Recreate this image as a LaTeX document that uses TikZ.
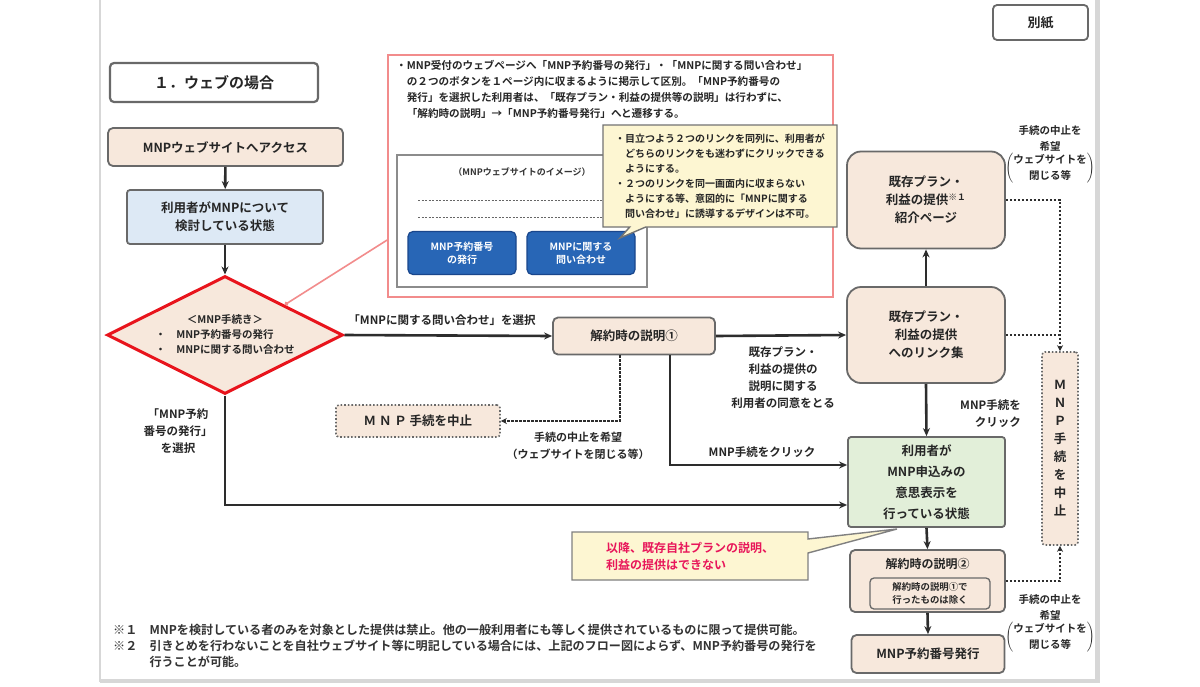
\documentclass[tikz,border=0pt]{standalone}
\usepackage{fontspec}
\setmainfont{Noto Sans CJK JP}[BoldFont={Noto Sans CJK JP Bold}]
\usetikzlibrary{shapes.geometric,shapes.callouts,arrows.meta,calc}
\definecolor{beige}{RGB}{247,232,220}
\definecolor{lblue}{RGB}{221,233,245}
\definecolor{lgreen}{RGB}{226,239,217}
\definecolor{bgray}{RGB}{105,105,105}
\definecolor{dred}{RGB}{232,20,28}
\definecolor{pinkline}{RGB}{242,140,140}
\definecolor{lyellow}{RGB}{253,246,210}
\definecolor{btnblue}{RGB}{40,102,182}
\definecolor{btnedge}{RGB}{25,70,140}
\definecolor{magred}{RGB}{232,22,90}
\definecolor{linec}{RGB}{45,45,45}
\definecolor{edgegray}{RGB}{215,215,215}
\tikzset{
  base/.style={font=\bfseries\fontsize{12.5}{18}\selectfont, align=center, inner sep=2pt, text=black!85},
  box/.style={base, draw=bgray, line width=1.8pt, rounded corners=5pt, fill=beige},
  bigbox/.style={box, rounded corners=14pt},
  dotbox/.style={base, draw=bgray, line width=1.6pt, dotted, rounded corners=3pt, fill=beige},
  lbl/.style={font=\bfseries\fontsize{11.5}{17}\selectfont, align=center, text=black!85, inner sep=1pt},
  flow/.style={draw=linec, line width=2.6pt, -{Stealth[length=8pt,width=7pt]}},
  flowline/.style={draw=linec, line width=2.6pt},
  quit/.style={draw=linec, line width=1.4pt, dash pattern=on 2.5pt off 1.5pt, -{Stealth[length=6pt,width=6pt]}},
  quitline/.style={draw=linec, line width=1.4pt, dash pattern=on 2.5pt off 1.5pt},
  btn/.style={draw=btnedge, line width=1.2pt, fill=btnblue, rounded corners=5pt, text=white, font=\bfseries\fontsize{10}{13}\selectfont, align=center, minimum width=108pt, minimum height=43pt},
}
\begin{document}
\begin{tikzpicture}[x=1pt,y=-1pt]
\useasboundingbox (0,0) rectangle (1200,686);
\fill[white] (0,0) rectangle (1200,686);
% page edges
\draw[edgegray, line width=2pt] (100,0) -- (100,682);
\draw[edgegray, line width=5pt] (1097,0) -- (1097,682);
\draw[edgegray, line width=4pt] (100,681) -- (1100,681);

% header boxes
\node[base, draw=bgray, line width=1.8pt, rounded corners=4pt, fill=white, minimum width=95pt, minimum height=35pt, font=\bfseries\fontsize{13}{16}\selectfont] (bessi) at (1040.5,22.5) {別紙};
\node[base, draw=bgray, line width=2.2pt, rounded corners=4pt, fill=white, minimum width=208pt, minimum height=39pt, font=\bfseries\fontsize{15}{18}\selectfont] (title) at (214,82.5) {１．ウェブの場合};

% left column
\node[box, minimum width=235pt, minimum height=38pt] (access) at (225.5,147) {MNPウェブサイトへアクセス};
\node[box, fill=lblue, rounded corners=3pt, minimum width=196pt, minimum height=54pt] (consider) at (225,217) {利用者がMNPについて\\検討している状態};
\node[diamond, draw=dred, line width=3pt, fill=beige, shape aspect=2, minimum width=236pt, minimum height=118pt, inner sep=0pt, font=\bfseries\fontsize{10.5}{15}\selectfont, text=black!85] (dia) at (225,335)
  {\begin{tabular}{@{}l@{}}\multicolumn{1}{@{}c@{}}{＜MNP手続き＞}\\・　MNP予約番号の発行\\・　MNPに関する問い合わせ\end{tabular}};

% pink explanation box
\node[draw=pinkline, line width=1.6pt, fill=white, minimum width=445pt, minimum height=242pt] (pink) at (610.5,176) {};
\node[anchor=north west, font=\bfseries\fontsize{10.6}{16}\selectfont, align=left, inner sep=0pt, text=black!85] (pinktext) at (396,60)
 {・MNP受付のウェブページへ「MNP予約番号の発行」・「MNPに関する問い合わせ」\\
  　の２つのボタンを１ページ内に収まるように掲示して区別。「MNP予約番号の\\
  　発行」を選択した利用者は、「既存プラン・利益の提供等の説明」は行わずに、\\
  　「解約時の説明」→「MNP予約番号発行」へと遷移する。};
\node[draw=black!45, line width=1.4pt, fill=white, minimum width=250pt, minimum height=132pt] (site) at (522,221) {};
\node[font=\bfseries\fontsize{9}{12}\selectfont, text=black!80] (sitetitle) at (522,172) {（MNPウェブサイトのイメージ）};
\draw[black!60, line width=1pt, dash pattern=on 2pt off 1.5pt] (418,200) -- (640,200);
\draw[black!60, line width=1pt, dash pattern=on 2pt off 1.5pt] (418,217) -- (640,217);
\node[btn] (btn1) at (462,253) {MNP予約番号\\の発行};
\node[btn] (btn2) at (581,253) {MNPに関する\\問い合わせ};
\node[rectangle callout, callout absolute pointer={(620,238)}, callout pointer width=16pt, draw=black!55, line width=1.4pt, fill=lyellow, minimum width=234pt, minimum height=102pt, inner sep=0pt, font=\bfseries\fontsize{10}{15}\selectfont, align=left, text=black!85] (yellow) at (720,176)
 {・目立つよう２つのリンクを同列に、利用者が\\
  　どちらのリンクをも迷わずにクリックできる\\
  　ようにする。\\
  ・２つのリンクを同一画面内に収まらない\\
  　ようにする等、意図的に「MNPに関する\\
  　問い合わせ」に誘導するデザインは不可。};
\draw[pinkline, line width=1.6pt, {Circle[length=4pt]}-] (dia.north east) -- ([yshift=-64pt]pink.west);

% middle
\node[box, minimum width=162pt, minimum height=37pt] (k1) at (634,336) {解約時の説明①};
\node[dotbox, minimum width=164pt, minimum height=32pt] (stop) at (418,421) {Ｍ Ｎ Ｐ 手続を中止};

% right column
\node[bigbox, minimum width=158pt, minimum height=97pt] (intro) at (926,200) {既存プラン・\\利益の提供\textsuperscript{※１}\\紹介ページ};
\node[bigbox, minimum width=158pt, minimum height=96pt] (link) at (926,335) {既存プラン・\\利益の提供\\へのリンク集};
\node[box, fill=lgreen, rounded corners=3pt, minimum width=157pt, minimum height=90pt, font=\bfseries\fontsize{12.5}{21}\selectfont] (green) at (926.5,482) {利用者が\\MNP申込みの\\意思表示を\\行っている状態};
\node[box, minimum width=155pt, minimum height=62pt] (k2) at (927.5,581) {};
\node[base, font=\bfseries\fontsize{12}{15}\selectfont] (k2t) at (927.5,564) {解約時の説明②};
\node[draw=bgray, line width=1.3pt, rounded corners=4pt, minimum width=120pt, minimum height=31pt, inner sep=0pt, font=\bfseries\fontsize{9.4}{13}\selectfont, align=center, text=black!85] (k2n) at (930,593.5) {解約時の説明①で\\行ったものは除く};
\node[box, minimum width=153pt, minimum height=38pt] (issue) at (928,654) {MNP予約番号発行};
\node[dotbox, minimum width=36pt, minimum height=193pt, inner sep=0pt] (vstop) at (1060,448.5)
 {\begin{tabular}{@{}c@{}}Ｍ\\Ｎ\\Ｐ\\手\\続\\を\\中\\止\end{tabular}};

% red callout
\node[rectangle callout, callout absolute pointer={(897,529)}, callout pointer width=14pt, draw=black!50, line width=1.4pt, fill=lyellow, minimum width=236pt, minimum height=48pt, font=\bfseries\fontsize{12}{17}\selectfont, align=left, text=magred] (redcall) at (690,556) {以降、既存自社プランの説明、\\利益の提供はできない};

% connectors
\draw[flow] (access) -- (consider);
\draw[flow] (consider) -- (dia.north);
\draw[flow] (dia.east) -- (k1.west);
\draw[flow] (k1.east) -- (link.west);
\draw[flow] (link.north) -- (intro.south);
\draw[flow] (link.south) -- (green.north);
\draw[flow] ([xshift=36pt]k1.south) |- ([yshift=17pt]green.west);
\draw[flow] (dia.south) |- ([yshift=-23pt]green.west);
\draw[flow] (green.south) -- (k2.north);
\draw[flow] (k2.south) -- (issue.north);
\draw[quit] ([xshift=-14pt]k1.south) |- (stop.east);
\draw[quit] (intro.east) -| (vstop.north);
\draw[quitline] (link.east) -- (link.east -| vstop.north);
\draw[quit] (k2.east) -| (vstop.south);

% labels
\node[lbl] (l1) at (442,320) {「MNPに関する問い合わせ」を選択};
\node[lbl] (l2) at (178,431) {「MNP予約\\番号の発行」\\を選択};
\node[lbl] (l3) at (783,378) {既存プラン・\\利益の提供の\\説明に関する\\利用者の同意をとる};
\node[lbl, font=\bfseries\fontsize{11}{17}\selectfont] (l4) at (578,446) {手続の中止を希望\\（ウェブサイトを閉じる等）};
\node[lbl] (l5) at (762,452) {MNP手続をクリック};
\node[lbl, align=right, anchor=east] (l6) at (1022,414) {MNP手続を\\クリック};
\node[lbl, font=\bfseries\fontsize{10.5}{16}\selectfont] (l7) at (1050,155) {手続の中止を\\希望\\$\left(\vcenter{\hbox{\begin{tabular}{@{}c@{}}ウェブサイトを\\閉じる等\end{tabular}}}\right)$};
\node[lbl, font=\bfseries\fontsize{10.5}{16}\selectfont] (l8) at (1050,624) {手続の中止を\\希望\\$\left(\vcenter{\hbox{\begin{tabular}{@{}c@{}}ウェブサイトを\\閉じる等\end{tabular}}}\right)$};

% footnotes
\node[anchor=north west, font=\bfseries\fontsize{12.1}{16}\selectfont, align=left, inner sep=0pt, text=black!80] (notes) at (113,624)
 {※１　MNPを検討している者のみを対象とした提供は禁止。他の一般利用者にも等しく提供されているものに限って提供可能。\\
  ※２　引きとめを行わないことを自社ウェブサイト等に明記している場合には、上記のフロー図によらず、MNP予約番号の発行を\\
  　　　行うことが可能。};
\end{tikzpicture}
\end{document}
